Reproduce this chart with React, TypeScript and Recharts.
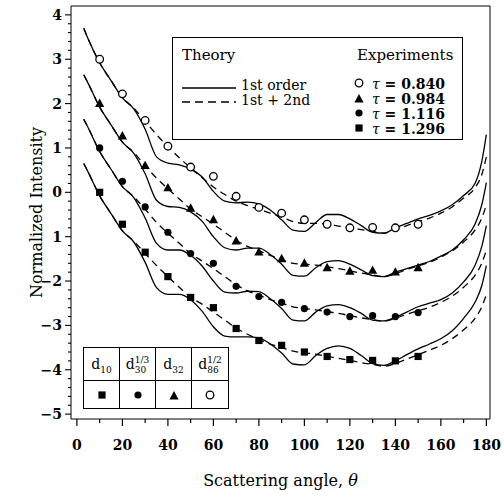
import { ComposedChart, Line, Scatter, XAxis, YAxis, Legend, Label } from "recharts"

// theory curves, sampled along the scattering angle
const ANGLES = [3, 5, 10, 15, 20, 25, 30, 35, 40, 45, 50, 55, 60, 65, 70, 75, 80, 85, 90, 95, 100, 105, 110, 115, 120, 125, 130, 135, 140, 145, 150, 155, 160, 165, 170, 175, 178, 180]

const FIRST_0840 = [3.7, 3.45, 2.92, 2.52, 2.13, 1.88, 1.42, 0.8, 0.66, 0.62, 0.53, 0.35, 0.02, -0.2, -0.24, -0.22, -0.26, -0.4, -0.62, -0.85, -0.88, -0.68, -0.5, -0.5, -0.6, -0.75, -0.9, -0.92, -0.8, -0.7, -0.6, -0.52, -0.42, -0.28, -0.07, 0.2, 0.7, 1.3]
const SECOND_0840 = [3.7, 3.45, 2.92, 2.52, 2.13, 1.9, 1.6, 1.3, 1.03, 0.78, 0.55, 0.33, 0.12, -0.05, -0.2, -0.3, -0.38, -0.47, -0.56, -0.66, -0.7, -0.7, -0.72, -0.76, -0.8, -0.84, -0.88, -0.92, -0.85, -0.75, -0.66, -0.58, -0.47, -0.33, -0.13, 0.1, 0.4, 0.8]
const FIRST_0984 = [2.65, 2.45, 1.92, 1.52, 1.13, 0.88, 0.42, -0.18, -0.32, -0.34, -0.44, -0.65, -1.0, -1.25, -1.3, -1.26, -1.26, -1.4, -1.62, -1.87, -1.89, -1.7, -1.56, -1.54, -1.62, -1.75, -1.88, -1.9, -1.8, -1.72, -1.64, -1.56, -1.44, -1.3, -1.07, -0.72, -0.28, 0.22]
const SECOND_0984 = [2.65, 2.45, 1.92, 1.52, 1.13, 0.9, 0.6, 0.32, 0.08, -0.15, -0.38, -0.55, -0.72, -0.9, -1.08, -1.22, -1.32, -1.42, -1.52, -1.6, -1.62, -1.64, -1.68, -1.72, -1.77, -1.82, -1.86, -1.9, -1.84, -1.74, -1.66, -1.58, -1.46, -1.32, -1.12, -0.85, -0.58, -0.28]
const FIRST_1116 = [1.65, 1.45, 0.92, 0.52, 0.13, -0.12, -0.58, -1.15, -1.3, -1.3, -1.42, -1.66, -2.0, -2.25, -2.27, -2.23, -2.24, -2.4, -2.62, -2.88, -2.9, -2.7, -2.56, -2.53, -2.6, -2.73, -2.88, -2.9, -2.82, -2.7, -2.58, -2.5, -2.42, -2.27, -2.02, -1.65, -1.22, -0.75]
const SECOND_1116 = [1.65, 1.45, 0.92, 0.52, 0.13, -0.1, -0.38, -0.68, -0.92, -1.15, -1.38, -1.55, -1.72, -1.9, -2.08, -2.22, -2.32, -2.42, -2.5, -2.58, -2.62, -2.65, -2.69, -2.73, -2.78, -2.83, -2.87, -2.9, -2.84, -2.75, -2.67, -2.59, -2.48, -2.34, -2.14, -1.87, -1.6, -1.3]
const FIRST_1296 = [0.65, 0.45, -0.08, -0.48, -0.87, -1.12, -1.58, -2.15, -2.3, -2.3, -2.42, -2.68, -3.03, -3.24, -3.26, -3.26, -3.28, -3.42, -3.62, -3.87, -3.89, -3.68, -3.52, -3.46, -3.52, -3.68, -3.86, -3.9, -3.8, -3.66, -3.53, -3.42, -3.3, -3.12, -2.84, -2.48, -2.1, -1.65]
const SECOND_1296 = [0.65, 0.45, -0.08, -0.48, -0.87, -1.1, -1.38, -1.65, -1.9, -2.14, -2.37, -2.52, -2.7, -2.88, -3.06, -3.2, -3.32, -3.42, -3.5, -3.58, -3.62, -3.65, -3.7, -3.74, -3.79, -3.84, -3.88, -3.92, -3.86, -3.76, -3.66, -3.56, -3.45, -3.3, -3.1, -2.84, -2.58, -2.3]

// experiments
const EXP_ANGLES = [10, 20, 30, 40, 50, 60, 70, 80, 90, 100, 110, 120, 130, 140, 150]
const EXP_0840 = [3.0, 2.22, 1.62, 1.04, 0.57, 0.36, -0.09, -0.34, -0.47, -0.62, -0.72, -0.8, -0.79, -0.8, -0.72]
const EXP_0984 = [2.0, 1.27, 0.6, 0.1, -0.36, -0.62, -1.1, -1.35, -1.5, -1.6, -1.7, -1.78, -1.76, -1.8, -1.7]
const EXP_1116 = [1.0, 0.25, -0.33, -0.9, -1.38, -1.6, -2.12, -2.35, -2.48, -2.62, -2.7, -2.8, -2.78, -2.8, -2.71]
const EXP_1296 = [0.0, -0.72, -1.35, -1.9, -2.37, -2.6, -3.07, -3.34, -3.45, -3.6, -3.7, -3.77, -3.79, -3.8, -3.7]

const TAU_LABELS = ["0.840", "0.984", "1.116", "1.296"]
const X_TICKS = [0, 10, 20, 30, 40, 50, 60, 70, 80, 90, 100, 110, 120, 130, 140, 150, 160, 170, 180]
const Y_LABELS: Record<string, string> = { "4": "4", "3": "3", "2": "2", "1": "1", "0": "0", "-1": "1", "-2": "−2", "-3": "−3", "-4": "−4", "-5": "−5" }
const TABLE_HEAD = [["10", ""], ["30", "1/3"], ["32", ""], ["86", "1/2"]]

const Y_TICKS: number[] = []
for (let k = 0; k <= 45; k++) Y_TICKS.push((k - 25) / 5)

const X_DOMAIN = [-2.6, 181.6]
const Y_DOMAIN = [-5.11, 4.2]
const SERIF = '"DejaVu Serif", "Liberation Serif", serif'

const curve = (ys: number[]) => ANGLES.map((a, i) => ({ angle: a, v: ys[i] }))
const points = (ys: number[]) => EXP_ANGLES.map((a, i) => ({ angle: a, v: ys[i] }))

const OpenCircle = ({ cx, cy }: any) => <circle cx={cx} cy={cy} r={3.8} fill="#fff" stroke="#000" strokeWidth={1.3} />
const Tri = ({ cx, cy }: any) => <path d={`M${cx},${cy - 5} L${cx + 4.6},${cy + 3.4} L${cx - 4.6},${cy + 3.4} Z`} fill="#000" />
const Dot = ({ cx, cy }: any) => <circle cx={cx} cy={cy} r={3.6} fill="#000" />
const Sq = ({ cx, cy }: any) => <rect x={cx - 3.6} y={cy - 3.6} width={7.2} height={7.2} fill="#000" />

const XTick = ({ x, y, payload }: any) => {
  const v = payload.value
  const major = v % 20 === 0
  return (
    <g>
      <line x1={x} x2={x} y1={y} y2={y + (major ? 7 : 4)} stroke="#000" strokeWidth={1.2} />
      {major && (
        <text x={x} y={y + 31} textAnchor="middle" fontFamily={SERIF} fontWeight="bold" fontSize={14} fill="#000">
          {v}
        </text>
      )}
    </g>
  )
}

const YTick = ({ x, y, payload }: any) => {
  const v = payload.value
  const major = Number.isInteger(v)
  return (
    <g>
      <line x1={x} x2={x - (major ? 6 : 3)} y1={y} y2={y} stroke="#000" strokeWidth={1.1} />
      {major && (
        <text x={x - 9} y={y + 5} textAnchor="end" fontFamily={SERIF} fontWeight="bold" fontSize={14} fill="#000">
          {Y_LABELS[String(v)]}
        </text>
      )}
    </g>
  )
}

const LegendBox = () => {
  const marks = [<OpenCircle cx={6} cy={6} />, <Tri cx={6} cy={7} />, <Dot cx={6} cy={6} />, <Sq cx={6} cy={6} />]
  return (
    <div style={{ position: "relative", width: 291, height: 103, border: "1.3px solid #000", boxSizing: "border-box", background: "#fff", fontFamily: SERIF, color: "#000" }}>
      <div style={{ position: "absolute", left: 9, top: 8, fontSize: 15 }}>Theory</div>
      <div style={{ position: "absolute", left: 184, top: 8, fontSize: 15 }}>Experiments</div>
      <svg style={{ position: "absolute", left: 9, top: 44 }} width={56} height={26}>
        <line x1={0} x2={54} y1={6} y2={6} stroke="#000" strokeWidth={1.3} />
        <line x1={0} x2={54} y1={20} y2={20} stroke="#000" strokeWidth={1.3} strokeDasharray="8 5" />
      </svg>
      <div style={{ position: "absolute", left: 68, top: 40, fontSize: 14, lineHeight: "14px" }}>1st order</div>
      <div style={{ position: "absolute", left: 68, top: 55, fontSize: 14, lineHeight: "14px" }}>1st + 2nd</div>
      {TAU_LABELS.map((t, i) => (
        <div key={t} style={{ position: "absolute", left: 180, top: 38 + i * 15, height: 15, display: "flex", alignItems: "center", fontSize: 14 }}>
          <svg width={13} height={13}>{marks[i]}</svg>
          <span style={{ marginLeft: 6, fontStyle: "italic" }}>τ</span>
          <span style={{ fontWeight: "bold" }}>&nbsp;=&nbsp;{t}</span>
        </div>
      ))}
    </div>
  )
}

const SizeTable = () => {
  const marks = [<Sq cx={8} cy={8} />, <Dot cx={8} cy={8} />, <Tri cx={8} cy={9} />, <OpenCircle cx={8} cy={8} />]
  return (
    <div style={{ position: "absolute", left: 83, top: 347, display: "grid", gridTemplateColumns: "repeat(4, 36px)", gridTemplateRows: "33px 27px", border: "1.3px solid #000", background: "#fff", fontFamily: SERIF, color: "#000" }}>
      {TABLE_HEAD.map(([sub, sup], i) => (
        <div key={"h" + i} style={{ borderRight: i < 3 ? "1.2px solid #000" : "none", borderBottom: "1.2px solid #000", display: "flex", alignItems: "center", justifyContent: "center" }}>
          <span style={{ fontSize: 14 }}>d</span>
          <span style={{ display: "inline-flex", flexDirection: "column", fontSize: 9, lineHeight: "10px", marginTop: 2 }}>
            <span style={{ height: 10 }}>{sup}</span>
            <span>{sub}</span>
          </span>
        </div>
      ))}
      {marks.map((m, i) => (
        <div key={"m" + i} style={{ borderRight: i < 3 ? "1.2px solid #000" : "none", display: "flex", alignItems: "center", justifyContent: "center" }}>
          <svg width={16} height={16}>{m}</svg>
        </div>
      ))}
    </div>
  )
}

const App = () => {
  const firsts = [FIRST_0840, FIRST_0984, FIRST_1116, FIRST_1296]
  const seconds = [SECOND_0840, SECOND_0984, SECOND_1116, SECOND_1296]
  const exps = [EXP_0840, EXP_0984, EXP_1116, EXP_1296]
  const shapes = [OpenCircle, Tri, Dot, Sq]

  return (
    <div style={{ position: "absolute", left: 0, top: 0, width: 504, height: 498, background: "#fff" }}>
      <ComposedChart width={504} height={498} margin={{ top: 5, right: 13, bottom: 78, left: 70 }}>
        <XAxis
          dataKey="angle"
          type="number"
          domain={X_DOMAIN}
          allowDataOverflow
          ticks={X_TICKS}
          interval={0}
          height={1}
          tickSize={0}
          tickMargin={0}
          tickLine={false}
          tick={<XTick />}
          stroke="#000"
        >
          <Label
            content={({ viewBox }: any) => (
              <text x={viewBox.x + viewBox.width / 2} y={viewBox.y + 67} textAnchor="middle" fontFamily={SERIF} fontSize={16} fill="#000">
                Scattering angle, <tspan fontStyle="italic">θ</tspan>
              </text>
            )}
          />
        </XAxis>
        <XAxis xAxisId="top" orientation="top" type="number" domain={X_DOMAIN} allowDataOverflow height={1} tick={false} tickLine={false} stroke="#000" />
        <YAxis
          type="number"
          domain={Y_DOMAIN}
          allowDataOverflow
          ticks={Y_TICKS}
          interval={0}
          width={1}
          tickSize={0}
          tickMargin={0}
          tickLine={false}
          tick={<YTick />}
          stroke="#000"
        >
          <Label
            content={({ viewBox }: any) => {
              const cx = viewBox.x - 33
              const cy = viewBox.y + viewBox.height / 2
              return (
                <text x={cx} y={cy} transform={`rotate(-90 ${cx} ${cy})`} textAnchor="middle" dominantBaseline="middle" fontFamily={SERIF} fontSize={16} fill="#000">
                  Normalized Intensity
                </text>
              )
            }}
          />
        </YAxis>
        <YAxis yAxisId="right" orientation="right" type="number" domain={Y_DOMAIN} allowDataOverflow width={1} tick={false} tickLine={false} stroke="#000" />

        {firsts.map((ys, i) => (
          <Line key={"f" + i} data={curve(ys)} dataKey="v" type="monotone" stroke="#000" strokeWidth={1.3} dot={false} isAnimationActive={false} />
        ))}
        {seconds.map((ys, i) => (
          <Line key={"s" + i} data={curve(ys)} dataKey="v" type="monotone" stroke="#000" strokeWidth={1.3} strokeDasharray="7 5" dot={false} isAnimationActive={false} />
        ))}
        {exps.map((ys, i) => (
          <Scatter key={"e" + i} data={points(ys)} dataKey="v" shape={shapes[i]} isAnimationActive={false} />
        ))}

        <Legend
          layout="vertical"
          align="center"
          verticalAlign="middle"
          content={() => <LegendBox />}
          wrapperStyle={{ position: "absolute", left: 172, top: 37, width: 291, height: 103 }}
        />
      </ComposedChart>
      <SizeTable />
    </div>
  )
}

export default App
